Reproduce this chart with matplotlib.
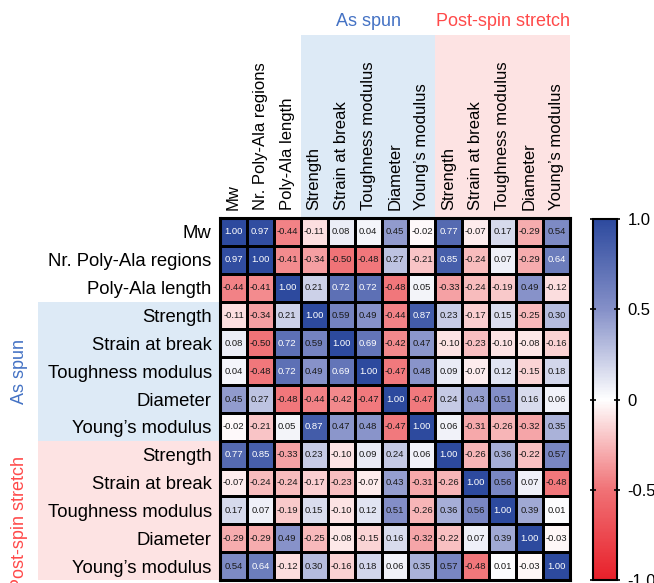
import numpy as np
import matplotlib
matplotlib.use("Agg")
from matplotlib import pyplot as plt
from matplotlib.colors import LinearSegmentedColormap
from matplotlib.patches import Rectangle
from matplotlib.transforms import blended_transform_factory

plt.rcParams['font.family'] = ['Liberation Sans', 'DejaVu Sans']

labels = ["Mw", "Nr. Poly-Ala regions", "Poly-Ala length",
          "Strength", "Strain at break", "Toughness modulus", "Diameter", "Young\u2019s modulus",
          "Strength", "Strain at break", "Toughness modulus", "Diameter", "Young\u2019s modulus"]

corr = np.array([
    [1.00, 0.97, -0.44, -0.11, 0.08, 0.04, 0.45, -0.02, 0.77, -0.07, 0.17, -0.29, 0.54],
    [0.97, 1.00, -0.41, -0.34, -0.50, -0.48, 0.27, -0.21, 0.85, -0.24, 0.07, -0.29, 0.64],
    [-0.44, -0.41, 1.00, 0.21, 0.72, 0.72, -0.48, 0.05, -0.33, -0.24, -0.19, 0.49, -0.12],
    [-0.11, -0.34, 0.21, 1.00, 0.59, 0.49, -0.44, 0.87, 0.23, -0.17, 0.15, -0.25, 0.30],
    [0.08, -0.50, 0.72, 0.59, 1.00, 0.69, -0.42, 0.47, -0.10, -0.23, -0.10, -0.08, -0.16],
    [0.04, -0.48, 0.72, 0.49, 0.69, 1.00, -0.47, 0.48, 0.09, -0.07, 0.12, -0.15, 0.18],
    [0.45, 0.27, -0.48, -0.44, -0.42, -0.47, 1.00, -0.47, 0.24, 0.43, 0.51, 0.16, 0.06],
    [-0.02, -0.21, 0.05, 0.87, 0.47, 0.48, -0.47, 1.00, 0.06, -0.31, -0.26, -0.32, 0.35],
    [0.77, 0.85, -0.33, 0.23, -0.10, 0.09, 0.24, 0.06, 1.00, -0.26, 0.36, -0.22, 0.57],
    [-0.07, -0.24, -0.24, -0.17, -0.23, -0.07, 0.43, -0.31, -0.26, 1.00, 0.56, 0.07, -0.48],
    [0.17, 0.07, -0.19, 0.15, -0.10, 0.12, 0.51, -0.26, 0.36, 0.56, 1.00, 0.39, 0.01],
    [-0.29, -0.29, 0.49, -0.25, -0.08, -0.15, 0.16, -0.32, -0.22, 0.07, 0.39, 1.00, -0.03],
    [0.54, 0.64, -0.12, 0.30, -0.16, 0.18, 0.06, 0.35, 0.57, -0.48, 0.01, -0.03, 1.00],
])

# groups: (name, first index, last index + 1)
groups = [("As spun", 3, 8), ("Post-spin stretch", 8, 13)]
group_text = ["#4472c4", "#ff4a4a"]
group_bg = ["#ddeaf6", "#fde3e3"]

cbar_ticks = [-1.0, -0.5, 0, 0.5, 1.0]
cbar_labels = ["-1.0", "-0.5", "0", "0.5", "1.0"]

W, H = 654, 583
cmap = LinearSegmentedColormap.from_list(
    "rwb", [(0.0, "#e8202a"), (0.25, "#f07276"), (0.5, "#ffffff"),
            (0.75, "#8590c8"), (1.0, "#2d4a9e")])

fig = plt.figure(figsize=(W / 100, H / 100), dpi=100)
ax = fig.add_axes([220 / W, 1 - 580 / H, 350 / W, 362 / H])

n = len(labels)
mesh = ax.pcolormesh(np.arange(n + 1), np.arange(n + 1), corr, cmap=cmap, vmin=-1, vmax=1,
                     edgecolors="black", linewidth=0.8)
ax.set_xlim(0, n)
ax.set_ylim(n, 0)

for i in range(n):
    for j in range(n):
        v = corr[i, j]
        ax.text(j + 0.5, i + 0.5, f"{v:.2f}", ha="center", va="center", fontsize=6.8,
                color="white" if v > 0.6 else "#1a1a1a")

ax.xaxis.tick_top()
ax.set_xticks(np.arange(n) + 0.5)
ax.set_xticklabels(labels, rotation=90, fontsize=12)
ax.set_yticks(np.arange(n) + 0.5)
ax.set_yticklabels(labels, fontsize=13.3)
ax.tick_params(length=0, pad=6)
for s in ax.spines.values():
    s.set_linewidth(2.2)

# shaded bands behind the group labels
top_tr = blended_transform_factory(ax.transData, fig.transFigure)
left_tr = blended_transform_factory(fig.transFigure, ax.transData)
top_y = 1 - 35 / H
ax_top = 1 - 218 / H
ax_left = 220 / W
for (name, a, b), tc, bg in zip(groups, group_text, group_bg):
    ax.add_patch(Rectangle((a, ax_top), b - a, top_y - ax_top, transform=top_tr,
                           facecolor=bg, edgecolor="none", clip_on=False, zorder=-1))
    ax.add_patch(Rectangle((38 / W, a), ax_left - 38 / W, b - a, transform=left_tr,
                           facecolor=bg, edgecolor="none", clip_on=False, zorder=-1))
    ax.text((a + b) / 2, 1 - 22 / H, name, transform=top_tr, ha="center", va="center",
            fontsize=13, color=tc)

ax.text(20 / W, 5.5, "As spun", transform=left_tr, rotation=90, ha="center", va="center",
        fontsize=13, color=group_text[0])
ax.text(20 / W, 10.95, "Post-spin stretch", transform=left_tr, rotation=90, ha="center",
        va="center", fontsize=13, color=group_text[1])

cax = fig.add_axes([593 / W, 1 - 580 / H, 24 / W, 361 / H])
cb = fig.colorbar(mesh, cax=cax, ticks=cbar_ticks)
cb.ax.set_yticklabels(cbar_labels, fontsize=12)
cb.outline.set_linewidth(1.5)
cax.tick_params(direction="inout", length=5, width=1.2, left=True, right=True, pad=5)

fig.savefig("out.png", dpi=100)
